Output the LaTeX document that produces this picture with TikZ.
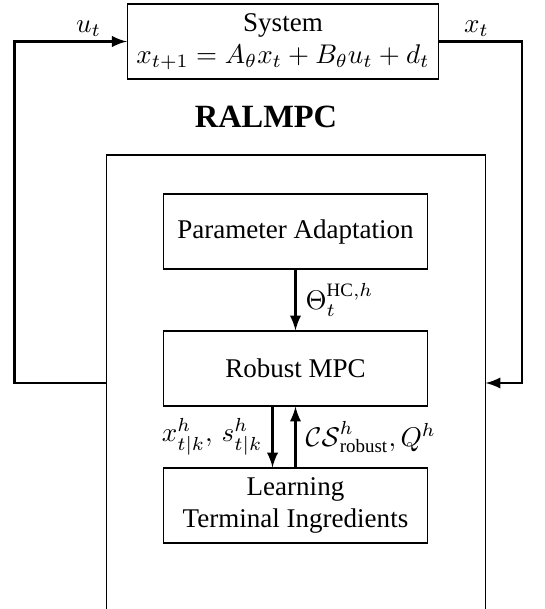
\documentclass[tikz,border=0pt]{standalone}
\usepackage{amsmath}
\usepackage{fontspec}
\setmainfont{Liberation Serif}
\usetikzlibrary{arrows}

\tikzset{
	block/.style = {draw, thin, minimum width = 98pt, minimum height = 27.75pt, align = center},
	flow/.style = {->, >=latex, line width = 0.9pt},
}

\begin{document}
\begin{tikzpicture}[x = 0.37pt, y = -0.37pt]
	\useasboundingbox (0,0) rectangle (545,609);
	\node[block, minimum width = 108pt] (sys) at (283,41.5) {System\\$x_{t+1} = A_\theta x_t + B_\theta u_t + d_t$};
	\node[font = \large\bfseries] (title) at (266,117) {RALMPC};
	\node[draw, thin, minimum width = 139.9pt, minimum height = 168.7pt] (frame) at (296,383) {};
	\node[block] (adapt) at (295.5,231.5) {Parameter Adaptation};
	\node[block] (mpc) at (295.5,368.5) {Robust MPC};
	\node[block, inner sep = 1pt] (learn) at (295.5,505.5) {Learning\\Terminal Ingredients};
	% feedback loop
	\draw [flow] (frame.west) -- ++(-92,0) |- (sys.west) node [pos = 0.83, above, inner sep = 1.5pt] {$u_t$};
	\draw [flow] (sys.east) -- ++(83,0) node [pos = 0.45, above, inner sep = 1.5pt] {$x_t$} |- (frame.east);
	% inside RALMPC
	\draw [flow] (adapt) -- (mpc) node [midway, right] {$\Theta_t^{\mathrm{HC},h}$};
	\draw [flow] ([xshift = -8.5pt]mpc.south) -- ([xshift = -8.5pt]learn.north) node [midway, left] {$x_{t|k}^h,\, s_{t|k}^h$};
	\draw [flow] (learn) -- (mpc) node [midway, right] {$\mathcal{CS}_{\text{robust}}^h, Q^h$};
\end{tikzpicture}
\end{document}
